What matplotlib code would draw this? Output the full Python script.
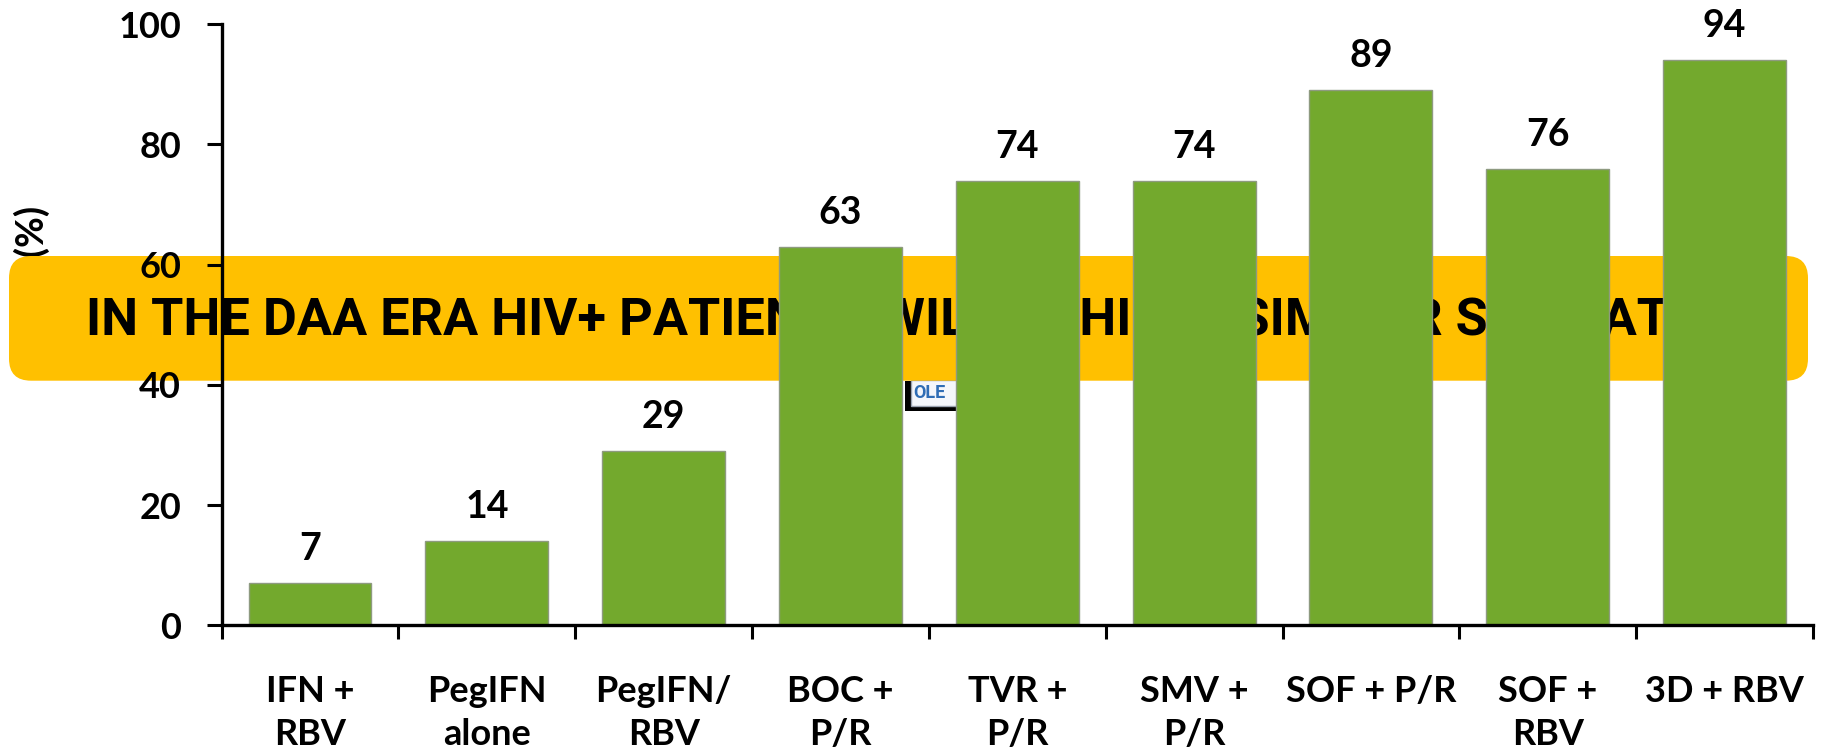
import matplotlib
matplotlib.use("Agg")
import matplotlib.pyplot as plt
from matplotlib.patches import FancyBboxPatch, Rectangle

# chart data
categories = ["IFN +\nRBV", "PegIFN\nalone", "PegIFN/\nRBV", "BOC +\nP/R", "TVR +\nP/R",
              "SMV +\nP/R", "SOF + P/R", "SOF +\nRBV", "3D + RBV"]
svr_rates = [7, 14, 29, 63, 74, 74, 89, 76, 94]
y_ticks = [0, 20, 40, 60, 80, 100]
y_label = "SVR (%)"
banner_text = "IN THE DAA ERA HIV+ PATIENTS WILL ACHIEVE SIMILAR SVR RATES"

bar_green = "#73A92D"
banner_yellow = "#FFC000"

plt.rcParams["font.family"] = ["Lato", "DejaVu Sans"]
plt.rcParams["font.weight"] = "bold"

fig = plt.figure(figsize=(18.21, 7.52), dpi=100)
ax = fig.add_axes([0.1217, 0.1685, 0.8739, 0.7992])
ax.set_zorder(1)
ax.patch.set_visible(False)

# y label sits behind the banner
fig.text(0.32, 5.46, y_label, transform=fig.dpi_scale_trans, rotation=90,
         ha="center", va="top", fontsize=27, fontweight="bold", zorder=0.2)

# small OLE object peeking out under the banner
fig.patches.append(Rectangle((9.05, 3.41), 0.7, 0.305, transform=fig.dpi_scale_trans,
                             facecolor="black", edgecolor="none", zorder=0.3))
fig.patches.append(Rectangle((9.11, 3.46), 0.7, 0.26, transform=fig.dpi_scale_trans,
                             facecolor="#F4F6FA", edgecolor="#9AA3B0", lw=1, zorder=0.35))
fig.text(9.13, 3.54, "OLE", transform=fig.dpi_scale_trans, fontsize=13,
         color="#2F6DB5", family=["Roboto", "DejaVu Sans"],
         fontweight="bold", zorder=0.36)

# banner
banner = FancyBboxPatch((0.09, 3.713), 17.99, 1.247,
                        boxstyle="round,pad=0,rounding_size=0.22",
                        transform=fig.dpi_scale_trans,
                        facecolor=banner_yellow, edgecolor="none", zorder=0.5)
fig.patches.append(banner)
btxt = fig.text(9.085, 4.16, banner_text, transform=fig.dpi_scale_trans,
                ha="center", va="baseline", fontsize=38, fontweight="bold",
                family=["Roboto", "DejaVu Sans"], zorder=0.6)
# shrink the banner text so it spans the same width as in the slide
renderer = fig.canvas.get_renderer()
w = btxt.get_window_extent(renderer).width
btxt.set_fontsize(38 * 1645 / w)

x = list(range(len(categories)))
bars = ax.bar(x, svr_rates, width=0.695, color=bar_green, edgecolor="#8E9A80", linewidth=1)

for xi, v in zip(x, svr_rates):
    ax.annotate(str(v), (xi, v), xytext=(0, 16.5), textcoords="offset points",
                ha="center", va="baseline", fontsize=27, fontweight="bold")

ax.set_xlim(-0.5, len(categories) - 0.5)
ax.set_ylim(0, 100)
ax.set_yticks(y_ticks)
ax.set_yticklabels([str(t) for t in y_ticks])

# ticks between categories, labels at centres
ax.set_xticks([i - 0.5 for i in range(len(categories) + 1)])
ax.set_xticklabels([])
ax.set_xticks(x, minor=True)
ax.set_xticklabels(categories, minor=True, fontsize=26, fontweight="bold", linespacing=1.35)
ax.tick_params(axis="x", which="major", direction="out", length=10, width=2.2)
ax.tick_params(axis="x", which="minor", length=0, pad=36)
ax.tick_params(axis="y", direction="out", length=10.8, width=2.2, pad=18.5, labelsize=26)

for s in ["top", "right"]:
    ax.spines[s].set_visible(False)
for s in ["left", "bottom"]:
    ax.spines[s].set_linewidth(2.4)

fig.savefig("out.png", dpi=100)
